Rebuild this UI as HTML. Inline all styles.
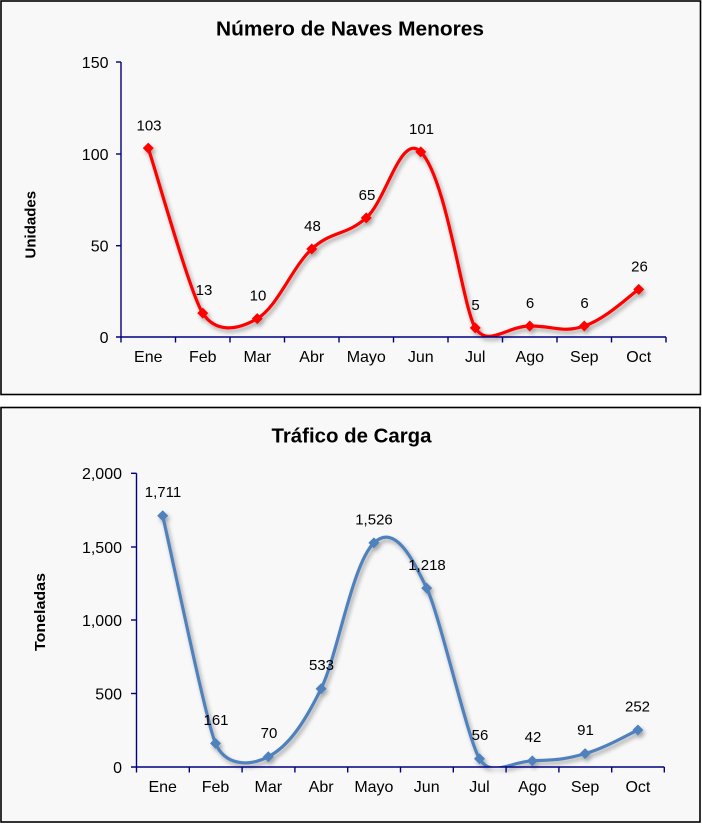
<!DOCTYPE html>
<html>
<head>
<meta charset="utf-8">
<style>
html,body{margin:0;padding:0;background:#ffffff;}
svg{display:block;}
text{font-family:"Liberation Sans",Arial,sans-serif;fill:#000;}
.tl{font-size:16px;}
.dl{font-size:15px;fill:#111;}
.tt{font-size:20px;font-weight:bold;}
.at{font-size:15px;font-weight:bold;}
</style>
</head>
<body>
<svg width="702" height="824" viewBox="0 0 702 824" xmlns="http://www.w3.org/2000/svg">
<defs>
<filter id="sh" x="-10%" y="-10%" width="130%" height="130%">
<feDropShadow dx="2" dy="3" stdDeviation="2" flood-color="#000" flood-opacity="0.35"/>
</filter>
<clipPath id="c1"><rect x="121" y="40" width="560" height="297.5"/></clipPath>
<clipPath id="c2"><rect x="136.5" y="450" width="550" height="317.5"/></clipPath>
</defs>

<!-- Chart 1 -->
<rect x="1" y="1" width="699.5" height="393.5" fill="#f8f8f8" stroke="#000" stroke-width="1.6"/>
<text class="tt" x="350" y="35.5" text-anchor="middle" textLength="268" lengthAdjust="spacingAndGlyphs">Número de Naves Menores</text>
<text class="at" transform="translate(35.5,224.7) rotate(-90)" text-anchor="middle">Unidades</text>

<g class="tl" text-anchor="end">
<text x="108.5" y="68">150</text>
<text x="108.5" y="160">100</text>
<text x="108.5" y="251.5">50</text>
<text x="108.5" y="343">0</text>
</g>
<g class="tl" text-anchor="middle">
<text x="148.25" y="362">Ene</text>
<text x="202.75" y="362">Feb</text>
<text x="257.25" y="362">Mar</text>
<text x="311.75" y="362">Abr</text>
<text x="366.25" y="362">Mayo</text>
<text x="420.75" y="362">Jun</text>
<text x="475.25" y="362">Jul</text>
<text x="529.75" y="362">Ago</text>
<text x="584.25" y="362">Sep</text>
<text x="638.75" y="362">Oct</text>
</g>

<g filter="url(#sh)">
<path clip-path="url(#c1)" d="M148.25,148.17 C157.33,175.67 190.06,293.32 202.75,313.17 C215.44,333.02 236.95,330.62 257.25,318.67 C277.55,306.72 291.93,267.34 311.75,249 C331.57,230.66 346.09,235.8 366.25,217.83 C386.41,199.86 401.04,131.94 420.75,151.83 C446.65,177.97 462.81,307.95 475.25,327.83 C487.69,347.71 506.31,326.39 529.75,326 C553.19,325.61 562.03,333.48 584.25,326 C606.47,318.52 629.67,295.44 638.75,289.33" fill="none" stroke="#ff0000" stroke-width="3.2" stroke-linejoin="round"/>
<g fill="#ff0000">
<polygon points="148.25,142.67 153.75,148.17 148.25,153.67 142.75,148.17"/>
<polygon points="202.75,307.67 208.25,313.17 202.75,318.67 197.25,313.17"/>
<polygon points="257.25,313.17 262.75,318.67 257.25,324.17 251.75,318.67"/>
<polygon points="311.75,243.5 317.25,249 311.75,254.5 306.25,249"/>
<polygon points="366.25,212.33 371.75,217.83 366.25,223.33 360.75,217.83"/>
<polygon points="420.75,146.33 426.25,151.83 420.75,157.33 415.25,151.83"/>
<polygon points="475.25,322.33 480.75,327.83 475.25,333.33 469.75,327.83"/>
<polygon points="529.75,320.5 535.25,326 529.75,331.5 524.25,326"/>
<polygon points="584.25,320.5 589.75,326 584.25,331.5 578.75,326"/>
<polygon points="638.75,283.83 644.25,289.33 638.75,294.83 633.25,289.33"/>
</g>
</g>

<g stroke="#000080" stroke-width="1.4" fill="none">
<line x1="121" y1="62" x2="121" y2="337"/>
<line x1="116" y1="62" x2="121" y2="62"/>
<line x1="116" y1="154" x2="121" y2="154"/>
<line x1="116" y1="245.7" x2="121" y2="245.7"/>
<line x1="116" y1="337" x2="666" y2="337"/>
<line x1="121" y1="337" x2="121" y2="342.5"/>
<line x1="175.5" y1="337" x2="175.5" y2="342.5"/>
<line x1="230" y1="337" x2="230" y2="342.5"/>
<line x1="284.5" y1="337" x2="284.5" y2="342.5"/>
<line x1="339" y1="337" x2="339" y2="342.5"/>
<line x1="393.5" y1="337" x2="393.5" y2="342.5"/>
<line x1="448" y1="337" x2="448" y2="342.5"/>
<line x1="502.5" y1="337" x2="502.5" y2="342.5"/>
<line x1="557" y1="337" x2="557" y2="342.5"/>
<line x1="611.5" y1="337" x2="611.5" y2="342.5"/>
<line x1="666" y1="337" x2="666" y2="342.5"/>
</g>

<g class="dl" text-anchor="middle">
<text x="149" y="130.5">103</text>
<text x="204" y="295">13</text>
<text x="258" y="300.5">10</text>
<text x="312.5" y="231">48</text>
<text x="367" y="200">65</text>
<text x="421.5" y="134">101</text>
<text x="475.5" y="310">5</text>
<text x="530" y="308">6</text>
<text x="584.5" y="308">6</text>
<text x="639.5" y="271.5">26</text>
</g>

<!-- Chart 2 -->
<rect x="1" y="407.5" width="699" height="414.5" fill="#f8f8f8" stroke="#000" stroke-width="1.6"/>
<text class="tt" x="351.5" y="442.5" text-anchor="middle" textLength="160" lengthAdjust="spacingAndGlyphs">Tráfico de Carga</text>
<text class="at" transform="translate(45,612) rotate(-90)" text-anchor="middle" textLength="78" lengthAdjust="spacingAndGlyphs">Toneladas</text>

<g class="tl" text-anchor="end">
<text x="122" y="479">2,000</text>
<text x="122" y="553">1,500</text>
<text x="122" y="626">1,000</text>
<text x="122" y="699.5">500</text>
<text x="122" y="773">0</text>
</g>
<g class="tl" text-anchor="middle">
<text x="162.7" y="792">Ene</text>
<text x="215.5" y="792">Feb</text>
<text x="268.3" y="792">Mar</text>
<text x="321.1" y="792">Abr</text>
<text x="373.9" y="792">Mayo</text>
<text x="426.7" y="792">Jun</text>
<text x="479.5" y="792">Jul</text>
<text x="532.3" y="792">Ago</text>
<text x="585.1" y="792">Sep</text>
<text x="637.9" y="792">Oct</text>
</g>

<g filter="url(#sh)">
<path clip-path="url(#c2)" d="M162.7,515.74 C171.5,553.68 206.1,721.91 215.5,743.36 C224.9,764.81 247.5,767.48 268.3,756.72 C289.1,745.96 304.71,721.91 321.1,688.73 C337.49,655.55 352.26,563.52 373.9,542.91 C395.54,522.3 413.57,561.29 426.7,588.14 C439.83,614.99 467.65,739.4 479.5,758.78 C491.35,778.16 509.61,761.93 532.3,760.83 C554.99,759.73 563.11,760.06 585.1,753.64 C607.09,747.22 629.1,733.93 637.9,729.99" fill="none" stroke="#4f81bd" stroke-width="3.2" stroke-linejoin="round"/>
<g fill="#4f81bd">
<polygon points="162.7,510.24 168.2,515.74 162.7,521.24 157.2,515.74"/>
<polygon points="215.5,737.86 221,743.36 215.5,748.86 210,743.36"/>
<polygon points="268.3,751.22 273.8,756.72 268.3,762.22 262.8,756.72"/>
<polygon points="321.1,683.23 326.6,688.73 321.1,694.23 315.6,688.73"/>
<polygon points="373.9,537.41 379.4,542.91 373.9,548.41 368.4,542.91"/>
<polygon points="426.7,582.64 432.2,588.14 426.7,593.64 421.2,588.14"/>
<polygon points="479.5,753.28 485,758.78 479.5,764.28 474,758.78"/>
<polygon points="532.3,755.33 537.8,760.83 532.3,766.33 526.8,760.83"/>
<polygon points="585.1,748.14 590.6,753.64 585.1,759.14 579.6,753.64"/>
<polygon points="637.9,724.49 643.4,729.99 637.9,735.49 632.4,729.99"/>
</g>
</g>

<g stroke="#000080" stroke-width="1.4" fill="none">
<line x1="136.5" y1="473.3" x2="136.5" y2="767"/>
<line x1="131" y1="473.3" x2="136.5" y2="473.3"/>
<line x1="131" y1="547" x2="136.5" y2="547"/>
<line x1="131" y1="620" x2="136.5" y2="620"/>
<line x1="131" y1="693.5" x2="136.5" y2="693.5"/>
<line x1="131" y1="767" x2="664.3" y2="767"/>
<line x1="136.5" y1="767" x2="136.5" y2="772.5"/>
<line x1="189.3" y1="767" x2="189.3" y2="772.5"/>
<line x1="242.1" y1="767" x2="242.1" y2="772.5"/>
<line x1="294.9" y1="767" x2="294.9" y2="772.5"/>
<line x1="347.7" y1="767" x2="347.7" y2="772.5"/>
<line x1="400.5" y1="767" x2="400.5" y2="772.5"/>
<line x1="453.3" y1="767" x2="453.3" y2="772.5"/>
<line x1="506.1" y1="767" x2="506.1" y2="772.5"/>
<line x1="558.9" y1="767" x2="558.9" y2="772.5"/>
<line x1="611.7" y1="767" x2="611.7" y2="772.5"/>
<line x1="664.3" y1="767" x2="664.3" y2="772.5"/>
</g>

<g class="dl" text-anchor="middle">
<text x="163" y="497">1,711</text>
<text x="216" y="725">161</text>
<text x="269" y="738">70</text>
<text x="321.5" y="670">533</text>
<text x="374" y="524.5">1,526</text>
<text x="427" y="570">1,218</text>
<text x="480" y="740">56</text>
<text x="533" y="742">42</text>
<text x="585.5" y="735">91</text>
<text x="637.5" y="711.5">252</text>
</g>
</svg>
</body>
</html>
